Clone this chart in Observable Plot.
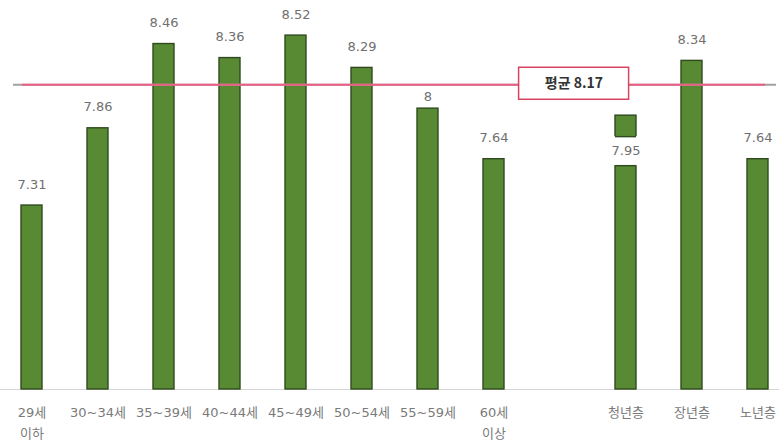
<!DOCTYPE html>
<html><head><meta charset="utf-8">
<script src="https://cdn.jsdelivr.net/npm/d3@7"></script>
<script src="https://cdn.jsdelivr.net/npm/@observablehq/plot@0.6"></script>
<style>
html,body{margin:0;padding:0;background:#fff;overflow:hidden;}
</style></head><body><div id="chart"></div>
<script>
const categories = ["29세\n이하","30~34세","35~39세","40~44세","45~49세","50~54세","55~59세","60세\n이상","청년층","장년층","노년층"];
const values = [7.31, 7.86, 8.46, 8.36, 8.52, 8.29, 8, 7.64, 7.95, 8.34, 7.64];
const valueLabels = ["7.31","7.86","8.46","8.36","8.52","8.29","8","7.64","7.95","8.34","7.64"];
const gapSlot = " ";
const average = 8.17;
const averageLabel = "평균 8.17";
const yMin = 6;
const yMax = 8.77;
const insideLabelCategory = "청년층";
const closeLabelCategory = "55~59세";

const domain = [...categories.slice(0, 8), gapSlot, ...categories.slice(8)];
const data = categories.map((c, i) => ({c, v: values[i], label: valueLabels[i]}));
const above = data.filter(d => d.c !== insideLabelCategory && d.c !== closeLabelCategory);
const close = data.filter(d => d.c === closeLabelCategory);
const inside = data.filter(d => d.c === insideLabelCategory);

const barFill = "#578a33", barStroke = "#2f4a1e";
const font = "'DejaVu Sans', 'Noto Sans CJK KR', sans-serif";
const labelStyle = {x: "c", y: "v", text: "label", fill: "#707070", fontSize: 13};

const chart = Plot.plot({
  width: 779,
  height: 443,
  marginTop: 0,
  marginBottom: 54,
  marginLeft: 0,
  marginRight: 0,
  style: {fontFamily: font, background: "white", overflow: "visible"},
  x: {domain, range: [0, 789], paddingInner: 0.684, paddingOuter: 0.286, label: null},
  y: {domain: [yMin, yMax], axis: null},
  marks: [
    Plot.ruleY([yMin], {stroke: "#d6d6d6", strokeWidth: 1}),
    Plot.barY(data, {x: "c", y1: yMin, y2: "v", fill: barFill, stroke: barStroke, strokeWidth: 1.4}),
    // white gap behind the inside label
    Plot.barY(inside, {x: "c", y1: "v", y2: "v", fill: "white", insetTop: 21, insetBottom: -50, insetLeft: -4, insetRight: -4}),
    Plot.tickY(inside, {x: "c", y: "v", dy: 21, stroke: barStroke, strokeWidth: 1.4}),
    Plot.tickY(inside, {x: "c", y: "v", dy: 50, stroke: barStroke, strokeWidth: 1.4}),
    Plot.text(inside, {...labelStyle, dy: 35}),
    Plot.text(above, {...labelStyle, dy: -21}),
    Plot.text(close, {...labelStyle, dy: -12}),
    // average line
    Plot.ruleY([average], {stroke: "#a0a0a0", strokeWidth: 2, insetLeft: 13, insetRight: 3}),
    Plot.ruleY([average], {stroke: "#ea5f83", strokeWidth: 2, insetLeft: 22, insetRight: 14}),
    Plot.barY([average], {x: () => gapSlot, y1: d => d, y2: d => d, fill: "white", stroke: "#d9435f", strokeWidth: 1.5,
      insetLeft: -30.4, insetRight: -58.6, insetTop: -17, insetBottom: -15}),
    Plot.text([averageLabel], {x: () => gapSlot, y: () => average, text: d => d, dx: 14, dy: -1,
      fill: "#333", fontSize: 14, fontWeight: "bold", fontFamily: "'Noto Sans CJK KR', sans-serif"}),
    Plot.axisX({tickSize: 0, tickPadding: 13, fontSize: 13, fill: "#7a7a7a", lineHeight: 1.6,
      tickFormat: d => d === gapSlot ? "" : d, label: null})
  ]
});
document.getElementById("chart").appendChild(chart);
</script></body></html>
